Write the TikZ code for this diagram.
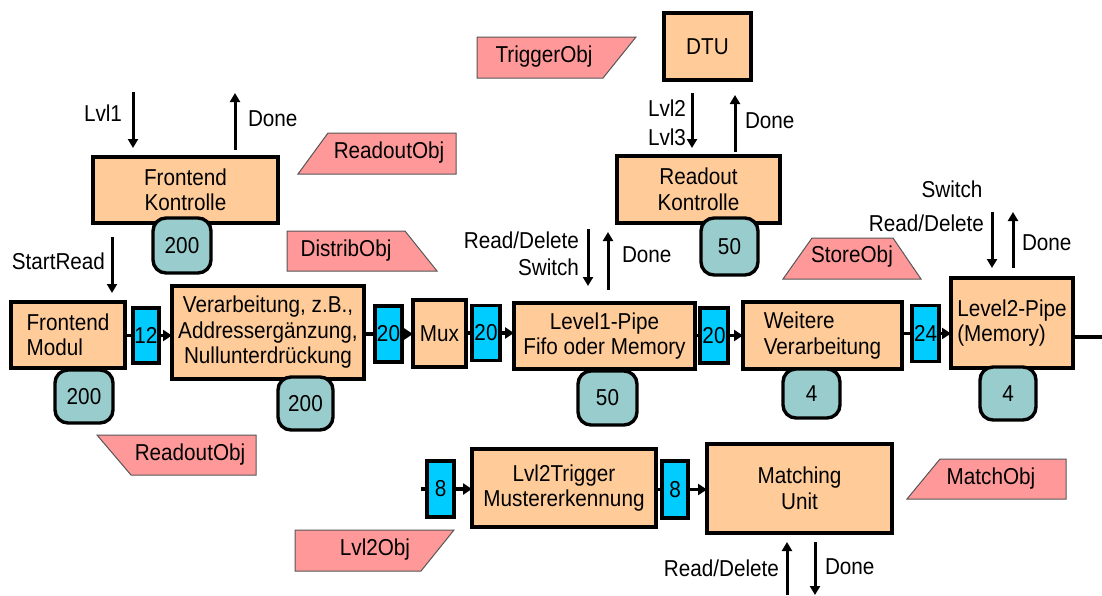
\documentclass[tikz,border=0pt]{standalone}
\usepackage{fontspec}
\setmainfont[FakeStretch=0.9]{Liberation Sans}
\usetikzlibrary{arrows.meta}
\definecolor{procfill}{HTML}{FFCC99}
\definecolor{cntfill}{HTML}{99CCCC}
\definecolor{busfill}{HTML}{00CCFF}
\definecolor{objfill}{HTML}{FF9999}
\definecolor{objline}{HTML}{555555}
\begin{document}
\begin{tikzpicture}[x=1pt,y=-1pt,
  every node/.style={font=\fontsize{23}{25.5}\selectfont, inner sep=0pt, outer sep=0pt},
  proc/.style={draw, line width=3.4pt, fill=procfill, align=center},
  cnt/.style={draw, line width=3.4pt, fill=cntfill, rounded corners=13pt},
  bus/.style={draw, line width=3.4pt, fill=busfill},
  obj/.style={draw=objline, line width=1pt, fill=objfill},
  conn/.style={line width=3.6pt},
  flow/.style={conn, -{Triangle[length=9pt,width=11pt]}},
  sig/.style={line width=3pt, -{Triangle[length=9pt,width=10pt]}},
]
\useasboundingbox (0,0) rectangle (1102,595);

% ---------- object tags ----------
\draw[obj] (328,133) -- (456,133) -- (456,174) -- (298,174) -- cycle;
\node (roA) at (389,153) {ReadoutObj};
\draw[obj] (287,231) -- (405,231) -- (437,271) -- (287,271) -- cycle;
\node (dist) at (346,251) {DistribObj};
\draw[obj] (477,37) -- (636,37) -- (603,78) -- (477,78) -- cycle;
\node (trig) at (544,57) {TriggerObj};
\draw[obj] (812,238) -- (893,238) -- (921,279) -- (783,279) -- cycle;
\node (store) at (852,257) {StoreObj};
\draw[obj] (97,435) -- (256,435) -- (256,475) -- (131,475) -- cycle;
\node (roB) at (190,455) {ReadoutObj};
\draw[obj] (295,530) -- (454,530) -- (421,571) -- (295,571) -- cycle;
\node (l2obj) at (375,550) {Lvl2Obj};
\draw[obj] (940,459) -- (1066,459) -- (1066,499) -- (907,499) -- cycle;
\node (match) at (991,479) {MatchObj};

% ---------- main pipeline ----------
\node[proc, minimum width=114pt, minimum height=66pt, align=left] (fm) at (68,335) {Frontend\\Modul};
\node[cnt, minimum width=58pt, minimum height=53pt] (cfm) at (84,396.5) {200};
\node[bus, minimum width=26pt, minimum height=55pt] (b12) at (146,335.5) {12};
\node[proc, minimum width=192pt, minimum height=93pt] (vb) at (268,332.5) {Verarbeitung, z.B.,\\Addressergänzung,\\Nullunterdrückung};
\node[cnt, minimum width=55pt, minimum height=53pt] (cvb) at (305.5,403.5) {200};
\node[bus, minimum width=27pt, minimum height=56pt] (b20a) at (388.5,334) {20};
\node[proc, minimum width=53pt, minimum height=67pt] (mux) at (439.5,333.5) {Mux};
\node[bus, minimum width=28pt, minimum height=55pt] (b20b) at (486,333) {20};
\node[proc, minimum width=181pt, minimum height=66pt] (l1) at (604.5,336) {Level1-Pipe\\Fifo oder Memory};
\node[cnt, minimum width=59pt, minimum height=54pt] (cl1) at (607.5,398) {50};
\node[bus, minimum width=28pt, minimum height=55pt] (b20c) at (714,335.5) {20};
\node[proc, minimum width=159pt, minimum height=67pt, align=left] (wv) at (822.5,335.5) {Weitere\\Verarbeitung};
\node[cnt, minimum width=57pt, minimum height=49pt] (cwv) at (811.5,393.5) {4};
\node[bus, minimum width=27pt, minimum height=56pt] (b24) at (925.5,333.5) {24};
\node[proc, minimum width=122pt, minimum height=90pt, align=left] (l2) at (1012,323) {Level2-Pipe\\(Memory)};
\node[cnt, minimum width=56pt, minimum height=53pt] (cl2) at (1008,393.5) {4};
\coordinate (out) at (1102,337);

\draw[conn] (fm.east |- b12.center) -- (b12.west);
\draw[flow] (b12.east) -- (vb.west |- b12.center);
\draw[conn] (vb.east |- b20a.center) -- (b20a.west);
\draw[flow] (b20a.east) -- (mux.west |- b20a.center);
\draw[conn] (mux.east |- b20b.center) -- (b20b.west);
\draw[flow] (b20b.east) -- (l1.west |- b20b.center);
\draw[conn] (l1.east |- b20c.center) -- (b20c.west);
\draw[flow] (b20c.east) -- (wv.west |- b20c.center);
\draw[conn] (wv.east |- b24.center) -- (b24.west);
\draw[flow] (b24.east) -- (l2.west |- b24.center);
\draw[conn] (l2.east |- out) -- (out);

% ---------- frontend control ----------
\node[proc, minimum width=185pt, minimum height=66pt] (fk) at (185.5,190) {Frontend\\Kontrolle};
\node[cnt, minimum width=58pt, minimum height=55pt] (cfk) at (182,245.5) {200};
\coordinate (lvlA) at (133,92);  \coordinate (lvlB) at (133,148);
\draw[sig] (lvlA) -- (lvlB);
\node[anchor=east] (tlvl1) at (122,113) {Lvl1};
\coordinate (dnA) at (235,150);  \coordinate (dnB) at (235,93);
\draw[sig] (dnA) -- (dnB);
\node[anchor=west] (tdn1) at (248,119) {Done};
\coordinate (srA) at (112,237);  \coordinate (srB) at (112,293);
\draw[sig] (srA) -- (srB);
\node[anchor=east] (tsr) at (105,261) {StartRead};

% ---------- readout control ----------
\node[proc, minimum width=87pt, minimum height=67pt] (dtu) at (707.5,46.5) {DTU};
\node[proc, minimum width=163pt, minimum height=67pt] (rk) at (698.5,189.5) {Readout\\Kontrolle};
\node[cnt, minimum width=57pt, minimum height=57pt] (crk) at (729.5,246.5) {50};
\coordinate (l23A) at (692,93);  \coordinate (l23B) at (692,148);
\draw[sig] (l23A) -- (l23B);
\node[anchor=east] (tl2) at (686,108) {Lvl2};
\node[anchor=east] (tl3) at (686,137) {Lvl3};
\coordinate (dn2A) at (735,152);  \coordinate (dn2B) at (735,95);
\draw[sig] (dn2A) -- (dn2B);
\node[anchor=west] (tdn2) at (745,121) {Done};
\coordinate (rdA) at (588,229);  \coordinate (rdB) at (588,286);
\draw[sig] (rdA) -- (rdB);
\coordinate (dn3A) at (608,290);  \coordinate (dn3B) at (608,232);
\draw[sig] (dn3A) -- (dn3B);
\node[anchor=east] (trd1) at (579,240) {Read/Delete};
\node[anchor=east] (tsw1) at (579,267) {Switch};
\node[anchor=west] (tdn3) at (622,255) {Done};

% ---------- level-2 pipe control ----------
\node (tsw2) at (952,189) {Switch};
\node[anchor=east] (trd2) at (984,223) {Read/Delete};
\coordinate (rd2A) at (992,212);  \coordinate (rd2B) at (992,268);
\draw[sig] (rd2A) -- (rd2B);
\coordinate (dn4A) at (1013,268); \coordinate (dn4B) at (1013,212);
\draw[sig] (dn4A) -- (dn4B);
\node[anchor=west] (tdn4) at (1022,243) {Done};

% ---------- level-2 trigger and matching ----------
\node[bus, minimum width=27pt, minimum height=56pt] (b8a) at (440.5,489) {8};
\node[proc, minimum width=184pt, minimum height=78pt] (lt) at (564,488) {Lvl2Trigger\\Mustererkennung};
\node[bus, minimum width=26pt, minimum height=57pt] (b8b) at (675,489.5) {8};
\node[proc, minimum width=185pt, minimum height=89pt] (mu) at (799.5,488.5) {Matching\\Unit};
\coordinate (in8) at (421,489);
\draw[conn] (in8) -- (b8a.west);
\draw[flow] (b8a.east) -- (lt.west |- b8a.center);
\draw[conn] (lt.east |- b8b.center) -- (b8b.west);
\draw[flow] (b8b.east) -- (mu.west |- b8b.center);
\coordinate (mrA) at (787,595);  \coordinate (mrB) at (787,542);
\draw[sig] (mrA) -- (mrB);
\coordinate (mdA) at (815,542);  \coordinate (mdB) at (815,595);
\draw[sig] (mdA) -- (mdB);
\node[anchor=east] (trd3) at (779,568) {Read/Delete};
\node[anchor=west] (tdn5) at (825,567) {Done};
\end{tikzpicture}
\end{document}
